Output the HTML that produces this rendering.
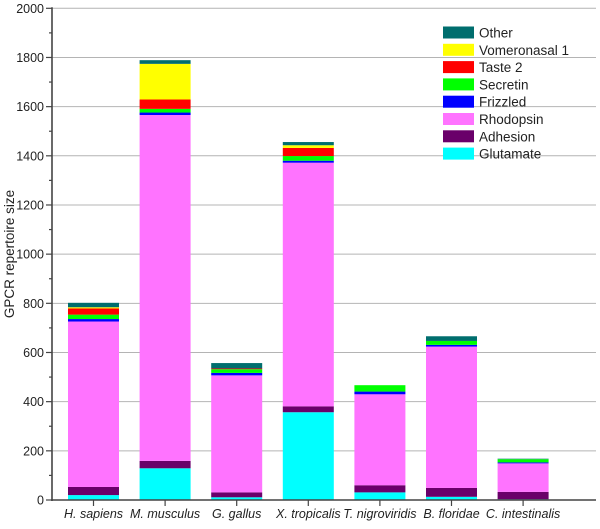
<!DOCTYPE html>
<html><head><meta charset="utf-8"><style>
body{margin:0;background:#fff;}
svg text{font-family:"Liberation Sans",Arial,sans-serif;}
</style></head><body>
<svg id="chart" width="600" height="524" xmlns="http://www.w3.org/2000/svg"></svg>
<script>
const categories=["H. sapiens","M. musculus","G. gallus","X. tropicalis","T. nigroviridis","B. floridae","C. intestinalis"];
const seriesNames=["Glutamate","Adhesion","Rhodopsin","Frizzled","Secretin","Taste 2","Vomeronasal 1","Other"];
const glutamate=[20,129,11,357,31,13,3];
const adhesion=[33,30,20,24,29,36,30];
const rhodopsin=[673,1407,476,991,370,575,116];
const frizzled=[10,10,10,8,11,7,4];
const secretin=[18,15,15,19,26,16,13];
const taste2=[25,38,3,33,0,0,0];
const vomeronasal1=[5,145,0,11,0,0,0];
const other=[18,15,22,13,0,19,2];
const yTicks=[0,200,400,600,800,1000,1200,1400,1600,1800,2000];
const colors=["#00ffff","#6a006a","#ff73ff","#0000ff","#00ff00","#ff0000","#ffff00","#006e6e"];
const series=[glutamate,adhesion,rhodopsin,frizzled,secretin,taste2,vomeronasal1,other];

const svg=document.getElementById('chart');
const NS="http://www.w3.org/2000/svg";
const x0=52,x1=596,y0=500,yTop=8.3,yMax=2000;
const yScale=v=>y0-(v/yMax)*(y0-yTop);
const step=71.6,firstC=93.5,barW=51;
const xScale=i=>firstC+i*step;
function el(tag,attrs,parent){const e=document.createElementNS(NS,tag);for(const k in attrs)e.setAttribute(k,attrs[k]);(parent||svg).appendChild(e);return e;}

// gridlines
yTicks.forEach(t=>{if(t===0)return;
 const g=el('line',{x1:x0,x2:x1,y1:yScale(t),y2:yScale(t),stroke:'#b4b4b4','stroke-width':1});
 
 
});
// bars
categories.forEach((c,i)=>{
 let acc=0;
 series.forEach((s,k)=>{
  const v=s[i]; if(v<=0){return;}
  const r=el('rect',{x:xScale(i)-barW/2,y:yScale(acc+v),width:barW,height:yScale(acc)-yScale(acc+v),fill:colors[k]});
  
  
  acc+=v;
 });
});
// axes
const ya=el('line',{x1:x0,x2:x0,y1:yTop-1,y2:y0+1,stroke:'#444','stroke-width':1.6});


const xa=el('line',{x1:x0-1,x2:x1,y1:y0,y2:y0,stroke:'#444','stroke-width':1.6});


yTicks.forEach(t=>{
 el('line',{x1:x0-6,x2:x0,y1:yScale(t),y2:yScale(t),stroke:'#444','stroke-width':1.2});
 if(t<yMax) el('line',{x1:x0-3,x2:x0,y1:yScale(t+100),y2:yScale(t+100),stroke:'#444','stroke-width':1.2});
 const l=el('text',{x:x0-8,y:yScale(t)+4.5,'text-anchor':'end','font-size':'12.5',fill:'#222'});
 l.textContent=t;
 
 
});
categories.forEach((c,i)=>{
 el('line',{x1:xScale(i),x2:xScale(i),y1:y0,y2:y0+6,stroke:'#444','stroke-width':1.2});
 const l=el('text',{x:xScale(i),y:y0+18,'text-anchor':'middle','font-size':'12.5','font-style':'italic',fill:'#222'});
 l.textContent=c;
 
 
});
const yt=el('text',{x:0,y:0,transform:'translate(14,254) rotate(-90)','text-anchor':'middle','font-size':'13.5',fill:'#222'});
yt.textContent='GPCR repertoire size';


// legend (top to bottom: Other ... Glutamate)
for(let k=seriesNames.length-1,row=0;k>=0;k--,row++){
 const cy=32.5+row*17.3;
 const g=el('g',{});
 
 
 el('rect',{x:443,y:cy-6,width:31,height:12,fill:colors[k]},g);
 const t=el('text',{x:479,y:cy+5,'font-size':'13.5',fill:'#222'},g);
 t.textContent=seriesNames[k];
}
</script>
</body></html>
